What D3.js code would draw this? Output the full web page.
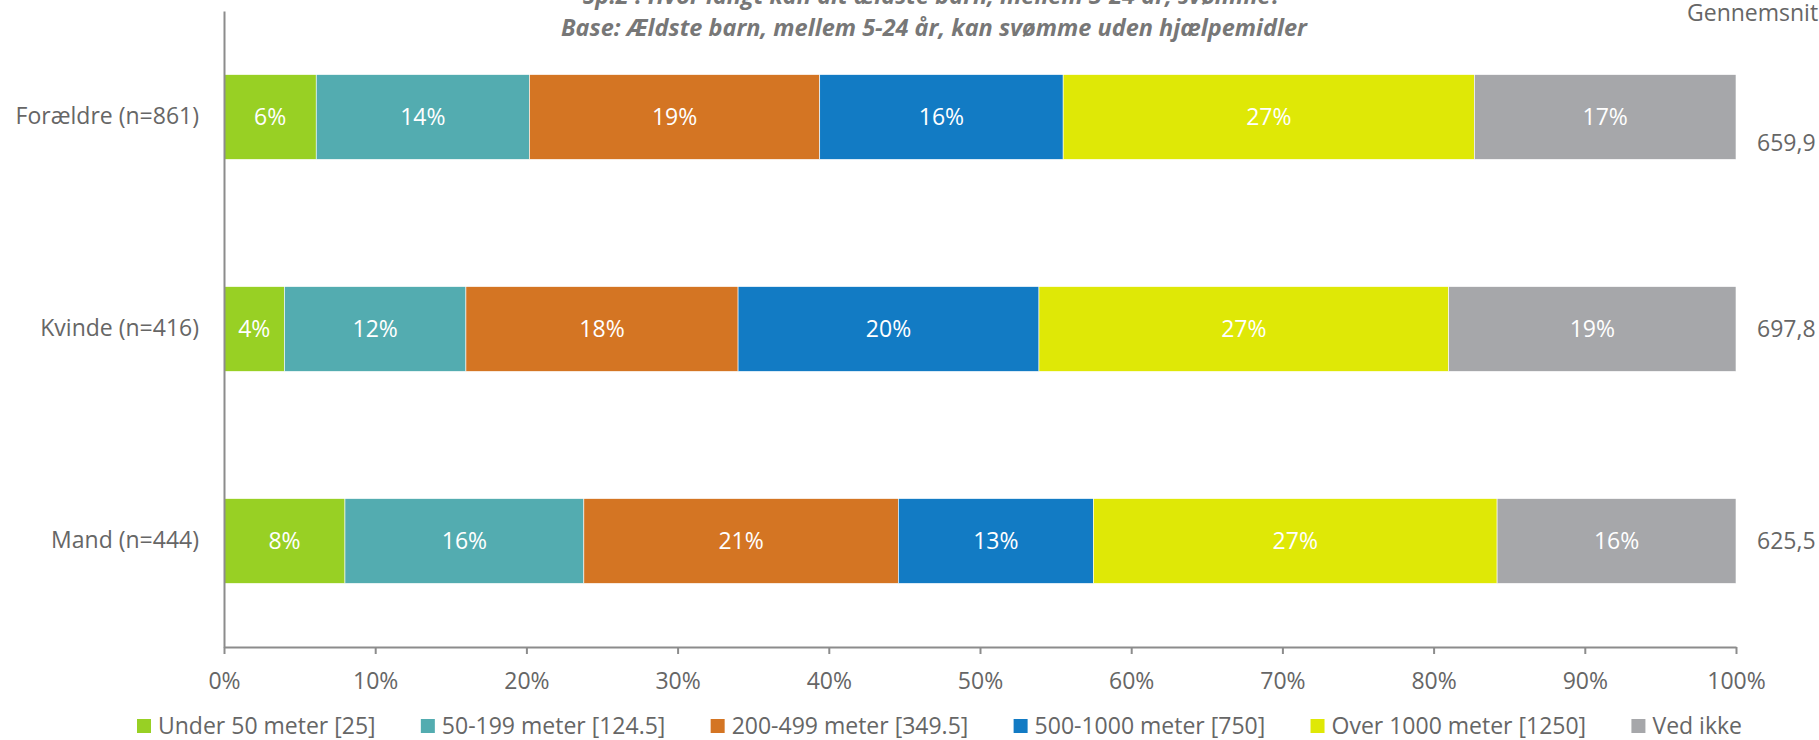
<!DOCTYPE html>
<meta charset="utf-8">
<style>
body { margin: 0; background: #fff; }
svg { font-family: "Open Sans", sans-serif; }
.axis text { fill: #666; font-size: 23px; font-family: "Open Sans", sans-serif; }
.axis path, .axis line { stroke: #8c8c8c; stroke-width: 2px; }
.lbl { fill: #fff; font-size: 23px; }
.avg { fill: #666; font-size: 23px; }
.legend text { fill: #666; font-size: 23px; }
.title { fill: #777; font-weight: bold; font-style: italic; font-size: 23.5px; }
</style>
<svg width="1819" height="740"></svg>
<script src="https://d3js.org/d3.v7.min.js"></script>
<script>

var categories = ["Forældre (n=861)", "Kvinde (n=416)", "Mand (n=444)"];
var seriesNames = ["Under 50 meter [25]", "50-199 meter [124.5]", "200-499 meter [349.5]",
                   "500-1000 meter [750]", "Over 1000 meter [1250]", "Ved ikke"];
var colors = ["#98d024", "#53acb0", "#d47523", "#127bc4", "#dfe806", "#a6a7aa"];

// percent per category, same order as seriesNames
var foraeldre = [6.1, 14.1, 19.2, 16.1, 27.2, 17.3];
var kvinde    = [4.0, 12.0, 18.0, 19.9, 27.1, 19.0];
var mand      = [8.0, 15.8, 20.8, 12.9, 26.7, 15.8];
var averages  = ["659,9", "697,8", "625,5"];
var tickValues = [0, 10, 20, 30, 40, 50, 60, 70, 80, 90, 100];

var values = [foraeldre, kvinde, mand];

var svg = d3.select("svg");

var x = d3.scaleLinear().domain([0, 100]).range([224, 1736]);
var y = d3.scaleBand().domain(categories).range([11, 647])
    .paddingInner(0.6).paddingOuter(0.3);

// stacked rows
var rows = categories.map(function(c, i) {
  var acc = 0;
  return values[i].map(function(v, j) {
    var seg = {cat: c, s: j, x0: acc, x1: acc + v, v: v};
    acc += v;
    return seg;
  });
});

var g = svg.selectAll("g.row")
    .data(rows)
  .enter().append("g")
    .attr("class", "row");

g.selectAll("rect")
    .data(function(d) { return d; })
  .enter().append("rect")
    .attr("x", function(d) { return x(d.x0); })
    .attr("y", function(d) { return y(d.cat); })
    .attr("width", function(d) { return x(d.x1) - x(d.x0); })
    .attr("height", y.bandwidth())
    .attr("fill", function(d) { return colors[d.s]; })
    .attr("stroke", "#fff")
    .attr("stroke-width", 0.6);

g.selectAll("text")
    .data(function(d) { return d; })
  .enter().append("text")
    .attr("class", "lbl")
    .attr("x", function(d) { return (x(d.x0) + x(d.x1)) / 2; })
    .attr("y", function(d) { return y(d.cat) + y.bandwidth() / 2; })
    .attr("dy", "0.35em")
    .attr("text-anchor", "middle")
    .text(function(d) { return Math.round(d.v) + "%"; });

// x axis
svg.append("g")
    .attr("class", "axis")
    .attr("transform", "translate(0,647)")
    .call(d3.axisBottom(x).tickValues(tickValues)
      .tickFormat(function(d) { return d + "%"; })
      .tickSizeInner(7).tickSizeOuter(0).tickPadding(19));

// y axis
svg.append("g")
    .attr("class", "axis")
    .attr("transform", "translate(224,0)")
    .call(d3.axisLeft(y).tickSize(0).tickPadding(25));

// averages on the right
svg.append("text")
    .attr("class", "avg")
    .attr("x", 1687).attr("y", 13).attr("dy", "0.35em")
    .text("Gennemsnit");

svg.selectAll("text.avgv")
    .data(averages)
  .enter().append("text")
    .attr("class", "avg avgv")
    .attr("x", 1757)
    .attr("y", function(d, i) { return y(categories[i]) + y.bandwidth() / 2 + (i === 0 ? 26 : 0); })
    .attr("dy", "0.35em")
    .text(function(d) { return d; });

// titles
svg.append("text")
    .attr("class", "title")
    .attr("x", 932).attr("y", 4)
    .attr("text-anchor", "middle")
    .text("Sp.2 : Hvor langt kan dit ældste barn, mellem 5-24 år, svømme?");
svg.append("text")
    .attr("class", "title")
    .attr("x", 934).attr("y", 28).attr("dy", "0.35em")
    .attr("text-anchor", "middle")
    .text("Base: Ældste barn, mellem 5-24 år, kan svømme uden hjælpemidler");

// legend, spread between the reference's outer edges
var legend = svg.append("g").attr("class", "legend");
var items = legend.selectAll("g")
    .data(seriesNames)
  .enter().append("g");
items.append("rect")
    .attr("width", 14).attr("height", 14).attr("y", -7)
    .attr("fill", function(d, i) { return colors[i]; });
items.append("text")
    .attr("x", 21).attr("dy", "0.35em")
    .text(function(d) { return d; });

var widths = [];
items.each(function() {
  widths.push(21 + this.querySelector("text").getComputedTextLength());
});
var left = 137, right = 1742;
var gap = (right - left - d3.sum(widths)) / (widths.length - 1);
var pos = left;
items.attr("transform", function(d, i) {
  var t = "translate(" + pos + ",726)";
  pos += widths[i] + gap;
  return t;
});

</script>
